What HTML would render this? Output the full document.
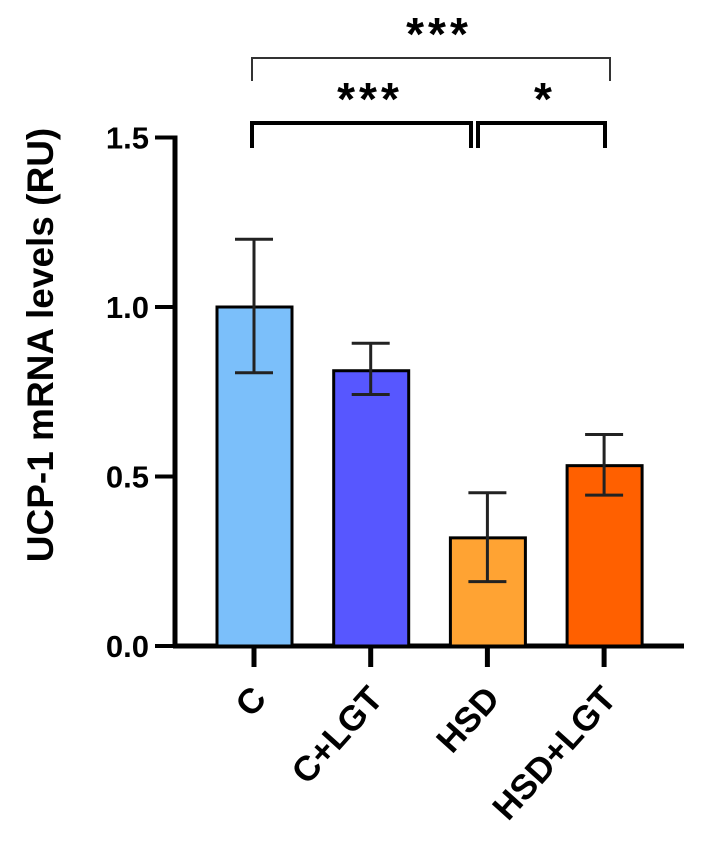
<!DOCTYPE html>
<html><head><meta charset="utf-8"><style>
body{margin:0;background:#fff}
svg text{font-family:"Liberation Sans",sans-serif;font-weight:bold;fill:#000}
</style></head><body>
<svg width="706" height="838" viewBox="0 0 706 838" id="chart">
<g id="g"></g>
</svg>
<script>
const categories=["C","C+LGT","HSD","HSD+LGT"];
const means=[1.0,0.812,0.319,0.532];
const errLow=[0.806,0.742,0.190,0.445];
const errHigh=[1.200,0.893,0.452,0.624];
const colors=["#7bbffa","#5757ff","#ffa333","#ff6000"];
const yTicks=[0,0.5,1.0,1.5];
const yTickLabels=["0.0","0.5","1.0","1.5"];
const NS="http://www.w3.org/2000/svg";
const g=document.getElementById('g');
const y=v=>646-v*339;
const xc=i=>254+i*116.7;
function mk(t,a,p){const e=document.createElementNS(NS,t);for(const k in a)e.setAttribute(k,a[k]);(p||g).appendChild(e);return e;}
let e=mk('line',{x1:175,y1:y(1.5)-2,x2:175,y2:648,stroke:'#000','stroke-width':5});


e=mk('line',{x1:173,y1:646,x2:684,y2:646,stroke:'#000','stroke-width':5});


yTicks.forEach((v,i)=>{
 let t=mk('line',{x1:155,y1:y(v),x2:177,y2:y(v),stroke:'#000','stroke-width':4});
 
 
 let l=mk('text',{x:149,y:y(v)+11,'text-anchor':'end','font-size':31});
 l.textContent=yTickLabels[i];
 
 
});
categories.forEach((c,i)=>{
 const x=xc(i);
 let r=mk('rect',{x:x-37,y:y(means[i]),width:75,height:646-y(means[i]),fill:colors[i],stroke:'#000','stroke-width':3});
 
 
 let eg=mk('g',{stroke:'#222','stroke-width':3});
 
 
 mk('line',{x1:x,y1:y(errHigh[i]),x2:x,y2:y(errLow[i])},eg);
 mk('line',{x1:x-19,y1:y(errHigh[i]),x2:x+19,y2:y(errHigh[i])},eg);
 mk('line',{x1:x-19,y1:y(errLow[i]),x2:x+19,y2:y(errLow[i])},eg);
 let t=mk('line',{x1:x,y1:646,x2:x,y2:667,stroke:'#000','stroke-width':5});
 
 
 let l=mk('text',{x:x+14,y:700,'text-anchor':'end','font-size':35,transform:`rotate(-48 ${x+14} 700)`});
 l.textContent=c;
 
 
});
let yt=mk('text',{x:53,y:345,'text-anchor':'middle','font-size':37,transform:'rotate(-90 53 345)'});
yt.textContent='UCP-1 mRNA levels (RU)';


function bracket(x1,x2,yy,leg,w,col,label,lx,ly,name){
 let b=mk('path',{d:`M${x1} ${yy+leg}V${yy}H${x2}V${yy+leg}`,fill:'none',stroke:col,'stroke-width':w});
 
 
 let s=mk('text',{x:lx,y:ly,'text-anchor':'middle','font-size':46,'letter-spacing':4});
 s.textContent=label;
 
 
}
bracket(252,610,58,23,2,'#333','***',439,50,'bracket-c-vs-hsdlgt');
bracket(252,471,123,25,4,'#000','***',370,115,'bracket-c-vs-hsd');
bracket(478,605,123,25,4,'#000','*',545,115,'bracket-hsd-vs-hsdlgt');
</script>
</body></html>
